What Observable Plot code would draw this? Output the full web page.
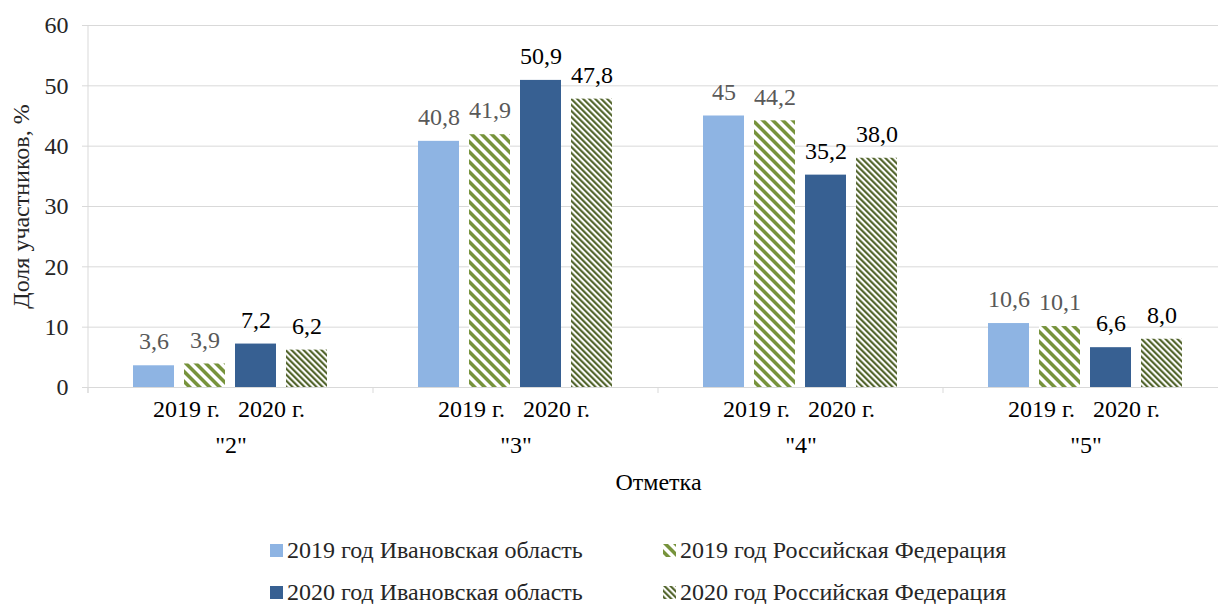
<!DOCTYPE html>
<html><head><meta charset="utf-8">
<script src="https://cdn.jsdelivr.net/npm/d3@7"></script>
<script src="https://cdn.jsdelivr.net/npm/@observablehq/plot@0.6"></script>
<style>
html,body{margin:0;padding:0;background:#fff;overflow:hidden;width:1218px;height:604px}
#chart svg{display:block}
.legend{display:grid;grid-template-columns:393px auto;row-gap:20px;margin-left:270px;margin-top:19px;font-family:'Liberation Serif','Tinos','DejaVu Serif','Times New Roman',serif;font-size:24px;color:#262626;line-height:22px}
.item{display:flex;align-items:center;white-space:nowrap}
.sw{width:13px;height:13px;margin-right:4px;flex:none}
#chart svg text{font-family:'Liberation Serif','Tinos','DejaVu Serif','Times New Roman',serif}
</style></head><body>
<div id="chart"></div>
<div class="legend" id="legend"></div>
<script>
const grades = ["2", "3", "4", "5"];
const seriesNames = ["2019 год Ивановская область", "2019 год Российская Федерация", "2020 год Ивановская область", "2020 год Российская Федерация"];
const io2019 = [3.6, 40.8, 45, 10.6];
const rf2019 = [3.9, 41.9, 44.2, 10.1];
const io2020 = [7.2, 50.9, 35.2, 6.6];
const rf2020 = [6.2, 47.8, 38.0, 8.0];
const io2019Labels = ["3,6", "40,8", "45", "10,6"];
const rf2019Labels = ["3,9", "41,9", "44,2", "10,1"];
const io2020Labels = ["7,2", "50,9", "35,2", "6,6"];
const rf2020Labels = ["6,2", "47,8", "38,0", "8,0"];
const yearLabels = ["2019 г.", "2020 г."];
const yTicks = [0, 10, 20, 30, 40, 50, 60];
const fills = ["#8EB4E3", "url(#rf2019)", "#376092", "url(#rf2020)"];

const valuesBySeries = [io2019, rf2019, io2020, rf2020];
const labelsBySeries = [io2019Labels, rf2019Labels, io2020Labels, rf2020Labels];
const rows = [];
seriesNames.forEach((s, i) => grades.forEach((g, j) => rows.push({
  grade: g, series: s, value: valuesBySeries[i][j], label: labelsBySeries[i][j], year: i < 2 ? 2019 : 2020
})));
const year2019Rows = grades.map(g => ({grade: g, label: yearLabels[0], anchor: seriesNames[1]}));
const year2020Rows = grades.map(g => ({grade: g, label: yearLabels[1], anchor: seriesNames[2]}));

const font = "'Liberation Serif', 'Tinos', 'DejaVu Serif', 'Times New Roman', serif";

const chart = Plot.plot({
  width: 1228, height: 520,
  marginLeft: 88, marginRight: 0, marginTop: 25, marginBottom: 133,
  style: {fontFamily: font, fontSize: "24px", color: "#262626", background: "#fff", maxWidth: "none", overflow: "visible"},
  fx: {domain: grades, padding: 0, label: null},
  x: {domain: seriesNames, paddingInner: 0.196, paddingOuter: 0.892, axis: null},
  y: {domain: [0, 60], axis: null},
  color: {domain: seriesNames, range: fills},
  marks: [
    Plot.gridY({ticks: yTicks, stroke: "#D9D9D9", strokeOpacity: 1}),
    Plot.barY(rows, {fx: "grade", x: "series", y: "value", fill: "series"}),
    Plot.text(rows.filter(d => d.year === 2019), {fx: "grade", x: "series", y: "value", text: "label", dy: -24, fill: "#595959", fontFamily: font}),
    Plot.text(rows.filter(d => d.year === 2020), {fx: "grade", x: "series", y: "value", text: "label", dy: -24, fill: "#000", fontFamily: font}),
    Plot.text(year2019Rows, {fx: "grade", x: "anchor", text: "label", frameAnchor: "bottom", dy: 29.5, dx: -18.5, fill: "#000", fontFamily: font}),
    Plot.text(year2020Rows, {fx: "grade", x: "anchor", text: "label", frameAnchor: "bottom", dy: 29.5, dx: 15.5, fill: "#000", fontFamily: font}),
    Plot.axisY({ticks: yTicks, anchor: "left", tickSize: 6, tickPadding: 14, stroke: "#D9D9D9", fill: "#262626", fontFamily: font,
      label: "Доля участников, %", labelAnchor: "center", labelOffset: 77, labelArrow: "none"}),
    Plot.axisFx({anchor: "bottom", tickSize: 0, tickPadding: 48, tickFormat: d => `"${d}"`, fill: "#000", fontFamily: font,
      label: "Отметка", labelAnchor: "center", labelOffset: 102})
  ]
});

const svg = d3.select(chart);
const defs = svg.insert("defs", ":first-child");
function stripes(id, period, color) {
  const p = defs.append("pattern").attr("id", id).attr("patternUnits", "userSpaceOnUse")
    .attr("width", period).attr("height", period).attr("patternTransform", "rotate(-45)");
  p.append("rect").attr("width", period).attr("height", period).attr("fill", "#fff");
  p.append("rect").attr("width", period / 2).attr("height", period).attr("fill", color);
}
stripes("rf2019", 7.07, "#77933C");
stripes("rf2020", 4.24, "#4F6228");

const fx = chart.scale("fx"), y = chart.scale("y");
const edges = grades.map(g => fx.apply(g)).concat([fx.apply(grades[grades.length - 1]) + fx.bandwidth]);
const y0 = y.apply(0), yTop = y.apply(60);
const axg = svg.append("g").attr("stroke", "#D9D9D9").attr("stroke-width", 1);
axg.append("line").attr("x1", edges[0]).attr("x2", edges[0]).attr("y1", yTop).attr("y2", y0 + 6);
axg.selectAll(null).data(edges).join("line")
  .attr("x1", d => d).attr("x2", d => d).attr("y1", y0).attr("y2", y0 + 6);

document.getElementById("chart").appendChild(chart);

const legend = d3.select("#legend");
seriesNames.forEach((s, i) => {
  const item = legend.append("div").attr("class", "item");
  item.append("svg").attr("class", "sw").attr("width", 13).attr("height", 13)
    .append("rect").attr("width", 13).attr("height", 13).attr("fill", fills[i]);
  item.append("span").text(s);
});
</script></body></html>
